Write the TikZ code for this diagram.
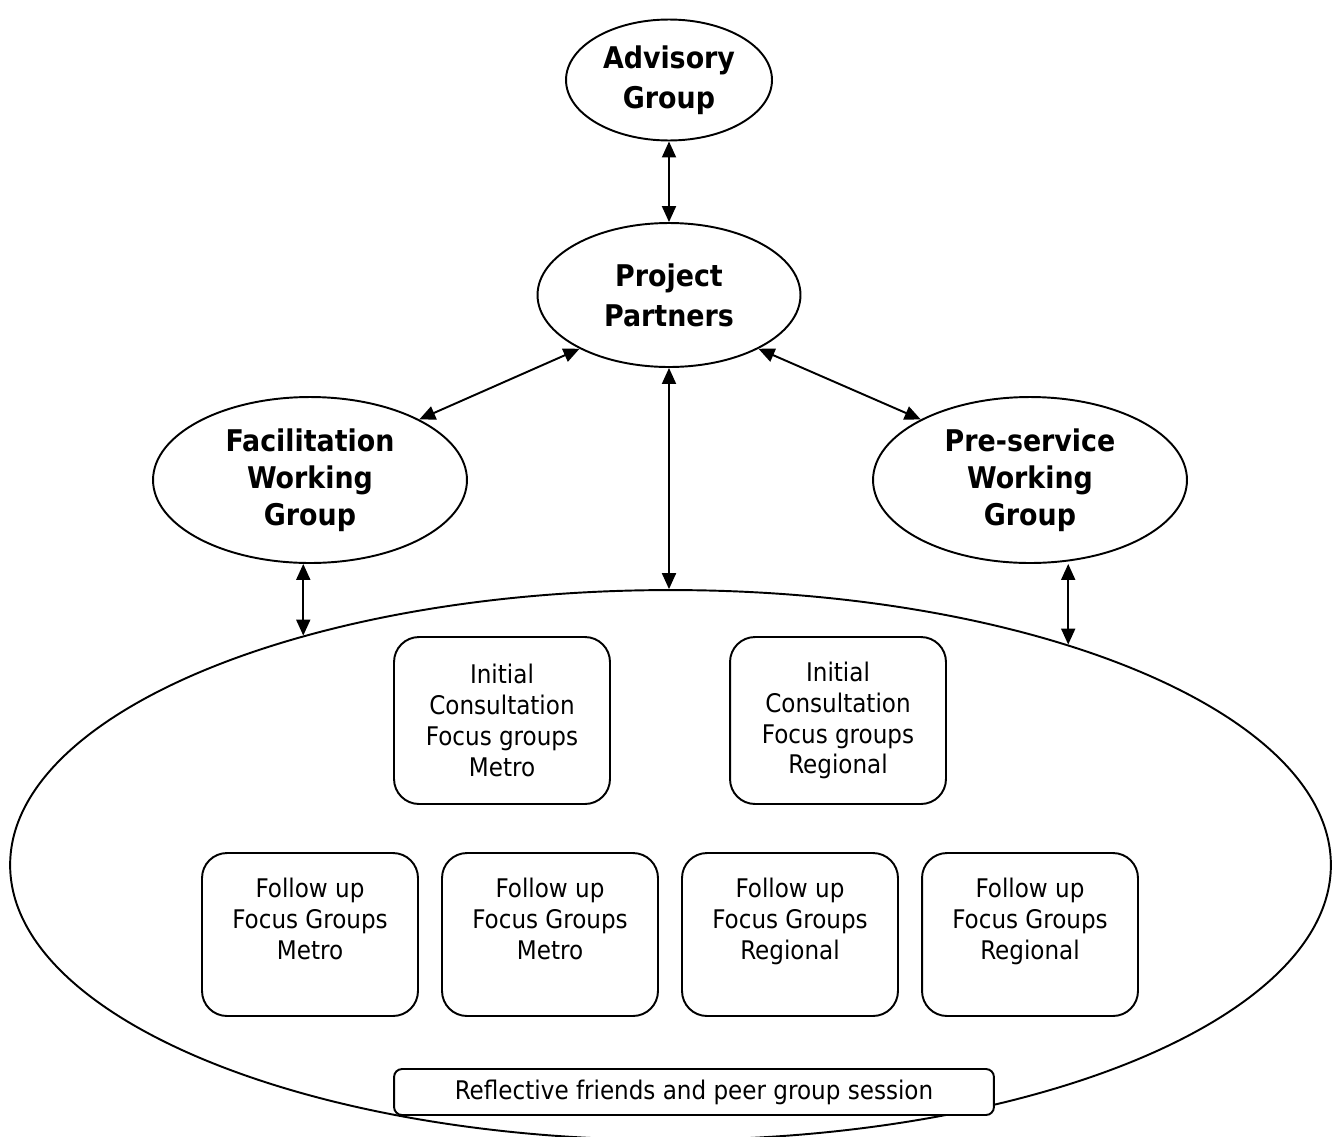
\documentclass[tikz,border=0pt]{standalone}
\usepackage{fontspec}
\setmainfont{DejaVu Sans Condensed}
\usepackage{tikz}
\usetikzlibrary{shapes.geometric, arrows.meta, positioning}

\begin{document}
\begin{tikzpicture}[
    x=0.02cm, y=-0.02cm,
    grp/.style={ellipse, draw, line width=1.1pt, inner sep=0pt, align=center, font=\fontsize{17}{22.8}\selectfont\bfseries},
    wgrp/.style={grp, minimum width=6.28cm, minimum height=3.32cm, font=\fontsize{17}{21.2}\selectfont\bfseries},
    fgbox/.style={rectangle, draw, line width=1.1pt, rounded corners=0.5cm, minimum width=4.32cm, align=center, font=\fontsize{14.6}{17.6}\selectfont},
    arrow/.style={{Triangle[length=0.32cm,width=0.28cm]}-{Triangle[length=0.32cm,width=0.28cm]}, line width=1.1pt}
]
    \clip (0,0) rectangle (1334,1136);
    % Groups
    \node[grp, minimum width=4.12cm, minimum height=2.42cm] (adv) at (669,80) {Advisory\\Group};
    \node[grp, minimum width=5.26cm, minimum height=2.88cm] (pp) at (669,295) {Project\\Partners};
    \node[wgrp] (fwg) at (310,480) {Facilitation\\Working\\Group};
    \node[wgrp] (pwg) at (1030,480) {Pre-service\\Working\\Group};
    \node[ellipse, draw, line width=1.1pt, minimum width=26.42cm, minimum height=11cm] (fg) at (670.5,865) {};
    % Focus groups
    \node[fgbox, minimum height=3.34cm] (icm) at (502,720.5) {Initial\\Consultation\\Focus groups\\Metro};
    \node[fgbox, minimum height=3.34cm] (icr) at (838,720.5) {Initial\\Consultation\\Focus groups\\Regional};
    \foreach \name/\x/\place in {fum1/310/Metro, fum2/550/Metro, fur1/790/Regional, fur2/1030/Regional}
        \node[fgbox, minimum height=3.26cm] (\name) at (\x,934.5) {Follow up\\Focus Groups\\\place\\\mbox{}};
    \node[rectangle, draw, fill=white, line width=1.1pt, rounded corners=0.16cm, minimum width=12cm, minimum height=0.92cm, font=\fontsize{14.6}{17.6}\selectfont] (refl) at (694,1092) {Reflective friends and peer group session};
    % Links
    \draw[arrow] (adv) -- (pp);
    \draw[arrow] (pp.211) -- (fwg.29);
    \draw[arrow] (pp.329) -- (pwg.151);
    \draw[arrow] (pp.south) -- (pp.south |- fg.north);
    \draw[arrow] (fg.148.7 |- fwg.south) -- (fg.148.7);
    \draw[arrow] (fg.29 |- pwg.south) -- (fg.29);
\end{tikzpicture}
\end{document}
